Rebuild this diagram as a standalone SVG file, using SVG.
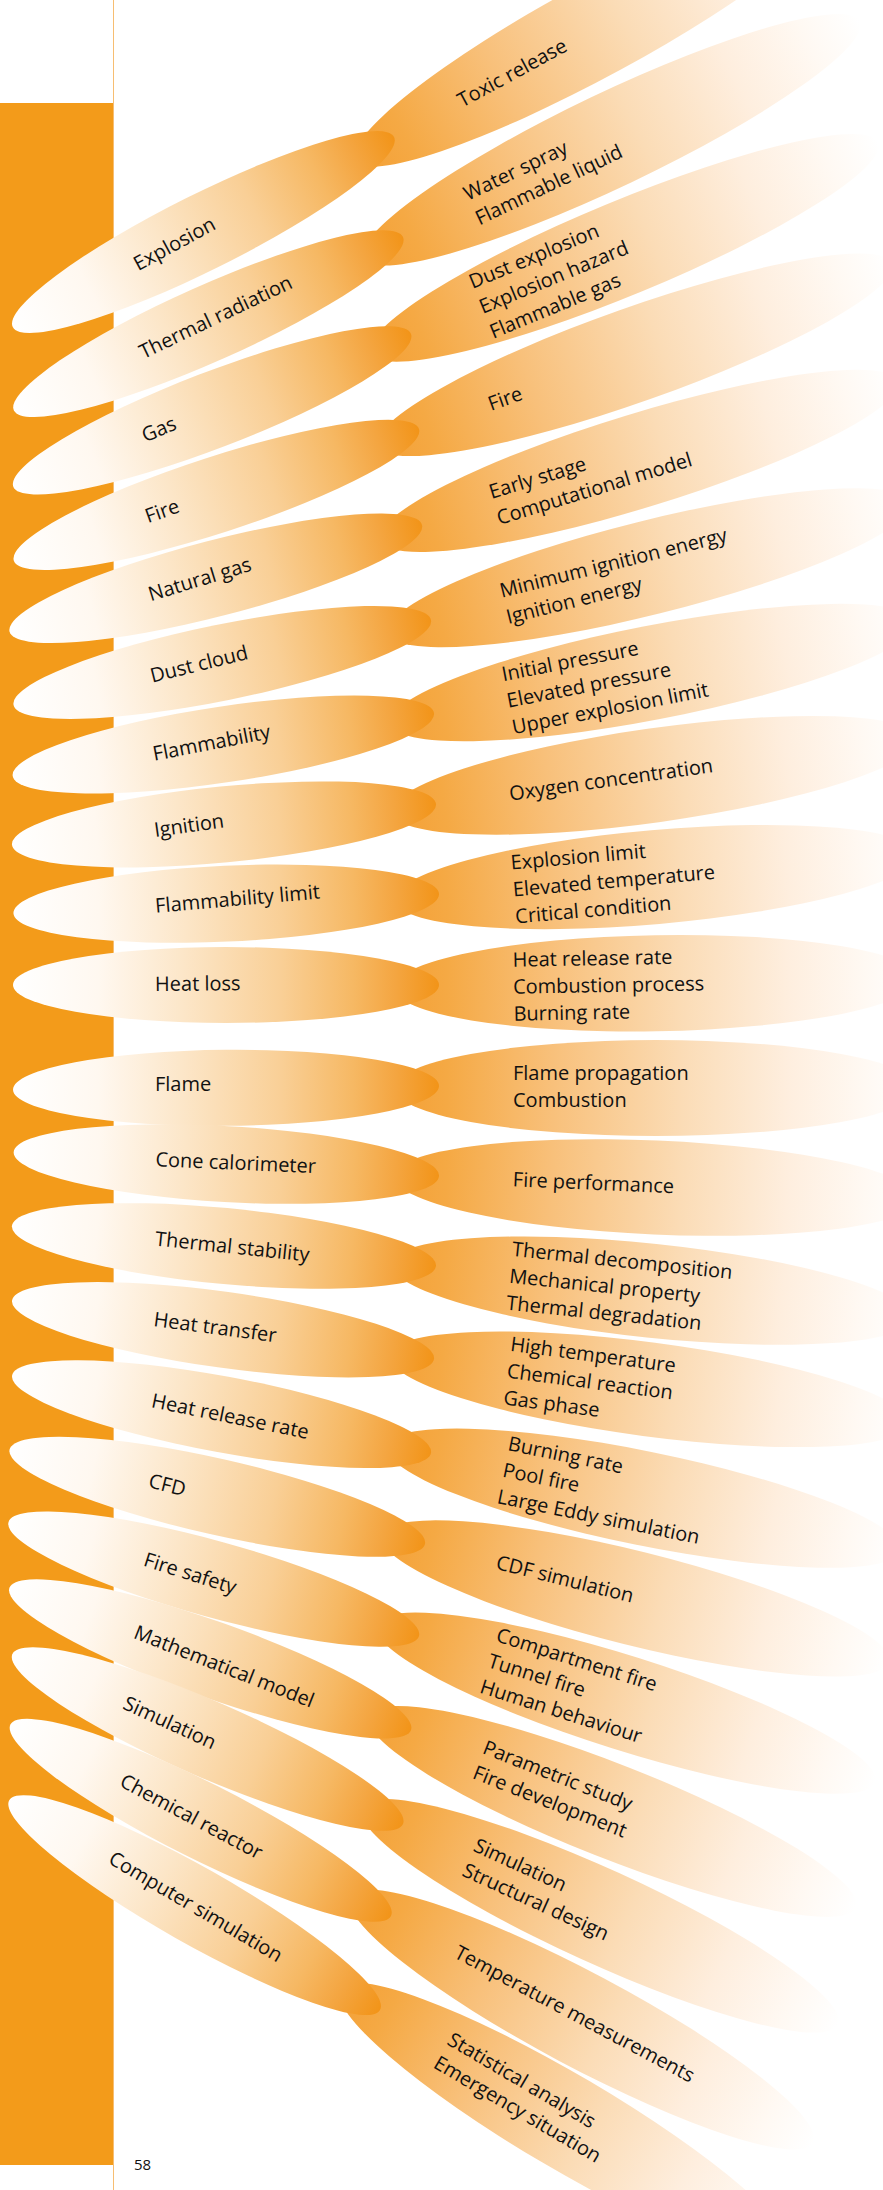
<svg xmlns="http://www.w3.org/2000/svg" width="883" height="2190" viewBox="0 0 883 2190">
<defs>
<linearGradient id="gL" x1="0" y1="0" x2="1" y2="0">
<stop offset="0" stop-color="#FFFFFF"/>
<stop offset="0.2" stop-color="#FFF8F0"/>
<stop offset="0.4" stop-color="#FCE6C8"/>
<stop offset="0.63" stop-color="#F9CF96"/>
<stop offset="0.8" stop-color="#F6B863"/>
<stop offset="0.9" stop-color="#F4A540"/>
<stop offset="1" stop-color="#F29418"/>
</linearGradient>
<linearGradient id="gR" x1="0" y1="0" x2="1" y2="0">
<stop offset="0" stop-color="#F4A035"/>
<stop offset="0.1" stop-color="#F5A944"/>
<stop offset="0.3" stop-color="#F8C07A"/>
<stop offset="0.55" stop-color="#FBDCB6"/>
<stop offset="0.75" stop-color="#FEEEDE"/>
<stop offset="0.9" stop-color="#FFF9F3"/>
<stop offset="1" stop-color="#FFFFFF"/>
</linearGradient>
<style>
.pl{fill:url(#gL)}
.pr{fill:url(#gR)}
.t{font-family:"Open Sans","Noto Sans","Liberation Sans",sans-serif;font-size:20px;fill:#111111}
.pg{font-family:"Open Sans","Noto Sans","Liberation Sans",sans-serif;font-size:15px;fill:#111111}
</style>
</defs>
<rect x="0" y="0" width="883" height="2190" fill="#FFFFFF"/>
<rect id="bar" x="0" y="103" width="113" height="2062" fill="#F39B1A"/>
<line x1="113.5" y1="0" x2="113.5" y2="2190" stroke="#F7BE72" stroke-width="1"/>

<g id="row1" transform="translate(394,137)">
<ellipse class="pr" transform="rotate(-28.5)" cx="230" cy="2" rx="275" ry="47"/>
<ellipse class="pl" transform="rotate(-26.5)" cx="-213" cy="0" rx="213" ry="38"/>
<text class="t" transform="rotate(-26.5) rotate(-2,-289,0)" x="-289" y="6">Explosion</text>
<text class="t" transform="rotate(-28.5)"><tspan x="74" y="7">Toxic release</tspan></text>
</g>
<g id="row2" transform="translate(403,237)">
<ellipse class="pr" transform="rotate(-25.5)" cx="230" cy="2" rx="275" ry="47"/>
<ellipse class="pl" transform="rotate(-24)" cx="-213" cy="0" rx="213" ry="38"/>
<text class="t" transform="rotate(-24) rotate(-1.5,-287,0)" x="-287" y="6">Thermal radiation</text>
<text class="t" transform="rotate(-25.5)"><tspan x="74" y="-4.5">Water spray</tspan><tspan x="74" y="22.5">Flammable liquid</tspan></text>
</g>
<g id="row3" transform="translate(411,334)">
<ellipse class="pr" transform="rotate(-22.5)" cx="230" cy="2" rx="275" ry="47"/>
<ellipse class="pl" transform="rotate(-21)" cx="-213" cy="0" rx="213" ry="38"/>
<text class="t" transform="rotate(-21) rotate(-1.5,-287,0)" x="-287" y="6">Gas</text>
<text class="t" transform="rotate(-22.5)"><tspan x="74" y="-18">Dust explosion</tspan><tspan x="74" y="9">Explosion hazard</tspan><tspan x="74" y="36">Flammable gas</tspan></text>
</g>
<g id="row4" transform="translate(419,429)">
<ellipse class="pr" transform="rotate(-19.5)" cx="228" cy="2" rx="273" ry="47"/>
<ellipse class="pl" transform="rotate(-18)" cx="-213" cy="0" rx="213" ry="38"/>
<text class="t" transform="rotate(-18) rotate(-1.5,-287,0)" x="-287" y="6">Fire</text>
<text class="t" transform="rotate(-19.5)"><tspan x="74" y="7">Fire</tspan></text>
</g>
<g id="row5" transform="translate(422,525)">
<ellipse class="pr" transform="rotate(-17)" cx="226" cy="2" rx="271" ry="47"/>
<ellipse class="pl" transform="rotate(-14.5)" cx="-213" cy="0" rx="213" ry="38"/>
<text class="t" transform="rotate(-14.5) rotate(-2.5,-282,0)" x="-282" y="6">Natural gas</text>
<text class="t" transform="rotate(-17)"><tspan x="74" y="-4.5">Early stage</tspan><tspan x="74" y="22.5">Computational model</tspan></text>
</g>
<g id="row6" transform="translate(431,620)">
<ellipse class="pr" transform="rotate(-14)" cx="224" cy="2" rx="269" ry="47"/>
<ellipse class="pl" transform="rotate(-11.5)" cx="-213" cy="0" rx="213" ry="38"/>
<text class="t" transform="rotate(-11.5) rotate(-2.5,-286,0)" x="-286" y="6">Dust cloud</text>
<text class="t" transform="rotate(-14)"><tspan x="74" y="-4.5">Minimum ignition energy</tspan><tspan x="74" y="22.5">Ignition energy</tspan></text>
</g>
<g id="row7" transform="translate(434,713)">
<ellipse class="pr" transform="rotate(-11)" cx="222" cy="2" rx="267" ry="47"/>
<ellipse class="pl" transform="rotate(-8.5)" cx="-213" cy="0" rx="213" ry="38"/>
<text class="t" transform="rotate(-8.5) rotate(-2.5,-284,0)" x="-284" y="6">Flammability</text>
<text class="t" transform="rotate(-11)"><tspan x="74" y="-18">Initial pressure</tspan><tspan x="74" y="9">Elevated pressure</tspan><tspan x="74" y="36">Upper explosion limit</tspan></text>
</g>
<g id="row8" transform="translate(436,804)">
<ellipse class="pr" transform="rotate(-8)" cx="220" cy="2" rx="265" ry="47"/>
<ellipse class="pl" transform="rotate(-5.5)" cx="-213" cy="0" rx="213" ry="38"/>
<text class="t" transform="rotate(-5.5) rotate(-2.5,-283,0)" x="-283" y="6">Ignition</text>
<text class="t" transform="rotate(-8)"><tspan x="74" y="7">Oxygen concentration</tspan></text>
</g>
<g id="row9" transform="translate(439,894)">
<ellipse class="pr" transform="rotate(-5)" cx="217" cy="2" rx="262" ry="47"/>
<ellipse class="pl" transform="rotate(-2.6)" cx="-213" cy="0" rx="213" ry="38"/>
<text class="t" transform="rotate(-2.6) rotate(-2.4,-284,0)" x="-284" y="6">Flammability limit</text>
<text class="t" transform="rotate(-5)"><tspan x="74" y="-18">Explosion limit</tspan><tspan x="74" y="9">Elevated temperature</tspan><tspan x="74" y="36">Critical condition</tspan></text>
</g>
<g id="row10" transform="translate(439,985)">
<ellipse class="pr" transform="rotate(-1)" cx="217" cy="2" rx="262" ry="48"/>
<ellipse class="pl" transform="rotate(0)" cx="-213" cy="0" rx="213" ry="38"/>
<text class="t" transform="rotate(-0.5,-284,0)" x="-284" y="6">Heat loss</text>
<text class="t" transform="rotate(-1)"><tspan x="74" y="-17">Heat release rate</tspan><tspan x="74" y="10">Combustion process</tspan><tspan x="74" y="37">Burning rate</tspan></text>
</g>
<g id="row11" transform="translate(439,1086)">
<ellipse class="pr" transform="rotate(0)" cx="217" cy="2" rx="262" ry="48"/>
<ellipse class="pl" transform="rotate(-0.5)" cx="-213" cy="0" rx="213" ry="38"/>
<text class="t" x="-284" y="5">Flame</text>
<text class="t"><tspan x="74" y="-6">Flame propagation</tspan><tspan x="74" y="21">Combustion</tspan></text>
</g>
<g id="row12" transform="translate(439,1176)">
<ellipse class="pr" transform="rotate(2.5)" cx="217" cy="2" rx="262" ry="47"/>
<ellipse class="pl" transform="rotate(3.2)" cx="-213" cy="0" rx="213" ry="38"/>
<text class="t" transform="rotate(3.2) rotate(-0.7,-284,0)" x="-284" y="6">Cone calorimeter</text>
<text class="t" transform="rotate(2.5)"><tspan x="74" y="7">Fire performance</tspan></text>
</g>
<g id="row13" transform="translate(436,1266)">
<ellipse class="pr" transform="rotate(6)" cx="217" cy="2" rx="262" ry="47"/>
<ellipse class="pl" transform="rotate(5.4)" cx="-213" cy="0" rx="213" ry="38"/>
<text class="t" transform="rotate(5.4) rotate(0.6,-282,0)" x="-282" y="6">Thermal stability</text>
<text class="t" transform="rotate(6)"><tspan x="74" y="-18">Thermal decomposition</tspan><tspan x="74" y="9">Mechanical property</tspan><tspan x="74" y="36">Thermal degradation</tspan></text>
</g>
<g id="row14" transform="translate(434,1359)">
<ellipse class="pr" transform="rotate(7.5)" cx="217" cy="2" rx="262" ry="47"/>
<ellipse class="pl" transform="rotate(7.9)" cx="-213" cy="0" rx="213" ry="38"/>
<text class="t" transform="rotate(7.9) rotate(-0.4,-283,0)" x="-283" y="6">Heat transfer</text>
<text class="t" transform="rotate(7.5)"><tspan x="74" y="-18">High temperature</tspan><tspan x="74" y="9">Chemical reaction</tspan><tspan x="74" y="36">Gas phase</tspan></text>
</g>
<g id="row15" transform="translate(431,1453)">
<ellipse class="pr" transform="rotate(11.5)" cx="217" cy="2" rx="262" ry="47"/>
<ellipse class="pl" transform="rotate(10.5)" cx="-213" cy="0" rx="213" ry="38"/>
<text class="t" transform="rotate(10.5) rotate(1,-284,0)" x="-284" y="6">Heat release rate</text>
<text class="t" transform="rotate(11.5)"><tspan x="74" y="-18">Burning rate</tspan><tspan x="74" y="9">Pool fire</tspan><tspan x="74" y="36">Large Eddy simulation</tspan></text>
</g>
<g id="row16" transform="translate(425,1544)">
<ellipse class="pr" transform="rotate(14)" cx="217" cy="2" rx="262" ry="47"/>
<ellipse class="pl" transform="rotate(12.8)" cx="-213" cy="0" rx="213" ry="38"/>
<text class="t" transform="rotate(12.8) rotate(1.2,-283,0)" x="-283" y="6">CFD</text>
<text class="t" transform="rotate(14)"><tspan x="74" y="7">CDF simulation</tspan></text>
</g>
<g id="row17" transform="translate(419,1636)">
<ellipse class="pr" transform="rotate(17.5)" cx="217" cy="2" rx="262" ry="47"/>
<ellipse class="pl" transform="rotate(15.5)" cx="-213" cy="0" rx="213" ry="38"/>
<text class="t" transform="rotate(15.5) rotate(2,-285,0)" x="-285" y="6">Fire safety</text>
<text class="t" transform="rotate(17.5)"><tspan x="74" y="-18">Compartment fire</tspan><tspan x="74" y="9">Tunnel fire</tspan><tspan x="74" y="36">Human behaviour</tspan></text>
</g>
<g id="row18" transform="translate(411,1730)">
<ellipse class="pr" transform="rotate(21.5)" cx="217" cy="2" rx="262" ry="47"/>
<ellipse class="pl" transform="rotate(19.5)" cx="-213" cy="0" rx="213" ry="38"/>
<text class="t" transform="rotate(19.5) rotate(2,-293,0)" x="-293" y="6">Mathematical model</text>
<text class="t" transform="rotate(21.5)"><tspan x="74" y="-4.5">Parametric study</tspan><tspan x="74" y="22.5">Fire development</tspan></text>
</g>
<g id="row19" transform="translate(403,1824)">
<ellipse class="pr" transform="rotate(24.5)" cx="217" cy="2" rx="262" ry="47"/>
<ellipse class="pl" transform="rotate(23.5)" cx="-213" cy="0" rx="213" ry="38"/>
<text class="t" transform="rotate(23.5) rotate(1,-304,0)" x="-304" y="6">Simulation</text>
<text class="t" transform="rotate(24.5)"><tspan x="74" y="-4.5">Simulation</tspan><tspan x="74" y="22.5">Structural design</tspan></text>
</g>
<g id="row20" transform="translate(391,1916)">
<ellipse class="pr" transform="rotate(28)" cx="217" cy="2" rx="262" ry="47"/>
<ellipse class="pl" transform="rotate(26.7)" cx="-213" cy="0" rx="213" ry="38"/>
<text class="t" transform="rotate(26.7) rotate(1.3,-302,0)" x="-302" y="6">Chemical reactor</text>
<text class="t" transform="rotate(28)"><tspan x="74" y="7">Temperature measurements</tspan></text>
</g>
<g id="row21" transform="translate(380,2010)">
<ellipse class="pr" transform="rotate(30.5)" cx="217" cy="2" rx="262" ry="47"/>
<ellipse class="pl" transform="rotate(29.5)" cx="-213" cy="0" rx="213" ry="38"/>
<text class="t" transform="rotate(29.5) rotate(1,-310,0)" x="-310" y="6">Computer simulation</text>
<text class="t" transform="rotate(30.5)"><tspan x="74" y="-4.5">Statistical analysis</tspan><tspan x="74" y="22.5">Emergency situation</tspan></text>
</g>

<text id="page" class="pg" x="134" y="2170">58</text>
</svg>
